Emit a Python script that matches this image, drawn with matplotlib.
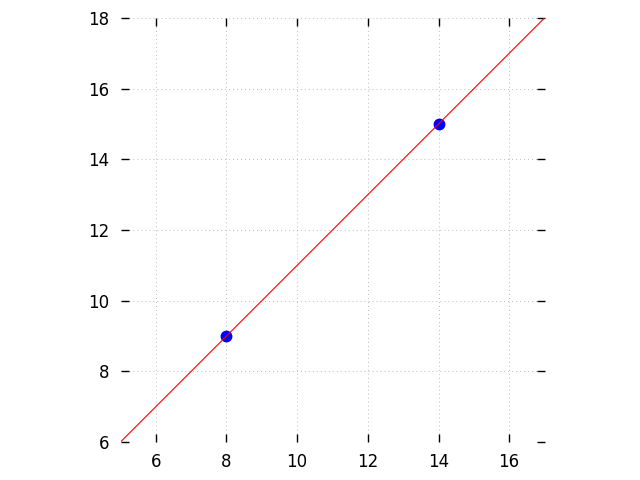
import numpy as np
import matplotlib
matplotlib.use("Agg")
import matplotlib.pyplot as plt

# data
line_x = [5, 17]
line_y = [6, 18]
pts_x = [8, 14]
pts_y = [9, 15]
xticks = [6, 8, 10, 12, 14, 16]
yticks = [6, 8, 10, 12, 14, 16, 18]

fig = plt.figure(figsize=(6.4, 4.8), dpi=100)
ax = fig.add_axes([120 / 640, 38 / 480, 425 / 640, 424 / 480])

ax.plot(pts_x, pts_y, "o", c="blue", markersize=7.5, zorder=2)
ax.plot(line_x, line_y, c="red", linewidth=0.8, zorder=3)

ax.set_xlim(5, 17)
ax.set_ylim(6, 18)
ax.set_aspect("equal")
ax.set_xticks(xticks)
ax.set_yticks(yticks)

for s in ax.spines.values():
    s.set_visible(False)
ax.tick_params(direction="in", top=True, right=True, length=6, width=1,
               labelsize=12, pad=8)
ax.grid(True, linestyle=(0, (1, 3.1)), color="#bbbbbb", linewidth=0.7)
ax.set_axisbelow(True)

plt.savefig("out.png")
